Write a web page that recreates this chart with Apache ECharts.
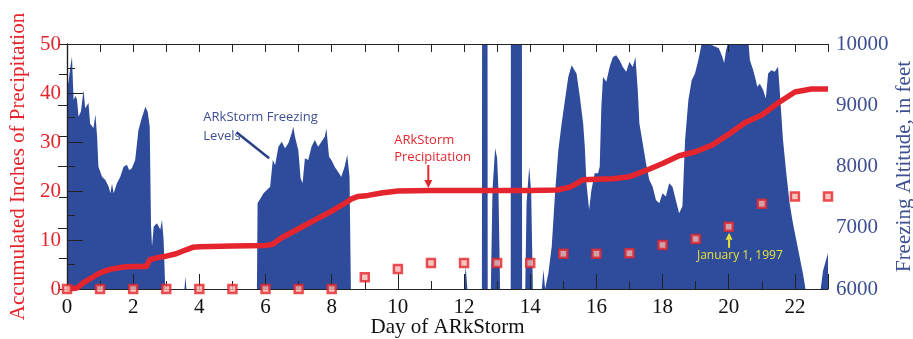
<!DOCTYPE html>
<html>
<head>
<meta charset="utf-8">
<script src="https://cdn.jsdelivr.net/npm/echarts@6/dist/echarts.min.js"></script>
<style>
  html, body { margin: 0; padding: 0; background: #fff; }
  #chart { width: 913px; height: 339px; }
</style>
</head>
<body>
<div id="chart"></div>
<script>
// accumulated ARkStorm precipitation (inches)
const precipDays = [0, 0.3, 0.5, 0.8, 1, 1.3, 1.7, 2, 2.4, 2.5, 2.8, 3, 3.3, 3.6, 3.8, 4, 5, 6, 6.2, 6.5, 7, 7.5, 8, 8.4, 8.6, 8.8, 9.1, 9.5, 10, 11, 12, 13, 14, 14.8, 15.2, 15.4, 15.6, 16, 16.5, 17, 17.5, 18, 18.5, 19, 19.5, 20, 20.5, 21, 21.5, 22, 22.5, 23];
const precipInches = [0, 0.2, 1.3, 2.5, 3.3, 4, 4.5, 4.6, 4.6, 6, 6.5, 6.7, 7.2, 8, 8.5, 8.6, 8.8, 8.9, 9.1, 10.5, 12.3, 14.1, 15.9, 17.5, 18.4, 18.9, 19.1, 19.6, 20, 20.1, 20.1, 20.1, 20.1, 20.2, 20.8, 21.5, 22.3, 22.4, 22.5, 22.9, 24.2, 25.6, 27.2, 28, 29.4, 31.6, 34, 35.5, 38, 40.2, 40.8, 40.8];

// January 1, 1997 event, daily accumulated (inches)
const eventDays = [0, 1, 2, 3, 4, 5, 6, 7, 8, 9, 10, 11, 12, 13, 14, 15, 16, 17, 18, 19, 20, 21, 22, 23];
const eventInches = [0, 0, 0, 0, 0, 0, 0, 0, 0, 2.4, 4.1, 5.3, 5.3, 5.3, 5.3, 7.2, 7.2, 7.3, 9.0, 10.2, 12.7, 17.4, 18.9, 18.9];

// ARkStorm freezing levels (feet); 6000 = at or below the axis floor
const freezeDays = [0, 0.05, 0.1, 0.15, 0.2, 0.25, 0.3, 0.35, 0.42, 0.5, 0.55, 0.65, 0.7, 0.8, 0.86, 0.91, 0.95, 1.06, 1.16, 1.26, 1.31, 1.36, 1.41, 1.51, 1.61, 1.71, 1.81, 1.88, 1.96, 2.06, 2.16, 2.27, 2.37, 2.44, 2.5, 2.54, 2.57, 2.62, 2.72, 2.82, 2.87, 2.92, 2.97,
  3.55, 3.58, 3.61,
  5.74, 5.76, 5.82, 5.94, 6.04, 6.14, 6.22, 6.29, 6.39, 6.49, 6.59, 6.69, 6.79, 6.84, 6.89, 6.99, 7.06, 7.12, 7.19, 7.29, 7.39, 7.49, 7.59, 7.69, 7.79, 7.84, 7.92, 7.99, 8.09, 8.19, 8.29, 8.39, 8.47, 8.54, 8.58,
  12.0, 12.05, 12.1, 12.54, 12.545, 12.71, 12.715, 12.81, 12.86, 12.94, 13.0, 13.04, 13.09, 13.41, 13.415, 13.75, 13.755, 13.85, 13.89, 13.97, 14.03, 14.08, 14.35, 14.4, 14.45,
  14.5, 14.55, 14.65, 14.75, 14.85, 14.95, 15.05, 15.15, 15.25, 15.3, 15.4, 15.5, 15.6, 15.65, 15.7, 15.78, 15.85, 15.95, 16.05, 16.1, 16.15, 16.2, 16.3, 16.4, 16.5, 16.6, 16.7, 16.8, 16.9, 17.0, 17.1, 17.18, 17.25, 17.3, 17.4, 17.5, 17.6, 17.7, 17.8, 17.9, 18.0, 18.1, 18.2, 18.3, 18.4, 18.5, 18.6,
  18.68, 18.78, 18.88, 18.98, 19.08, 19.18, 19.5, 19.7, 19.8, 19.86, 19.92, 19.97, 20.6, 20.64, 20.74, 20.82, 20.86, 20.94, 21.04, 21.12, 21.19, 21.29, 21.39, 21.49, 21.54, 21.64, 21.74, 21.84, 21.94, 22.04, 22.14, 22.24, 22.32,
  22.78, 22.85, 23.0];
const freezeFeet = [9245, 9400, 9626, 9790, 9084, 9150, 9100, 8812, 8900, 9247, 8950, 9035, 8700, 8628, 8850, 8486, 7997, 7834, 7780, 7671, 7563, 7720, 7563, 7726, 7834, 7997, 8030, 7940, 7970, 8106, 8595, 8812, 8975, 8890, 8650, 7020, 6694, 7020, 7075, 6970, 7130, 6803, 6000,
  6000, 6205, 6000,
  6000, 7405, 7455, 7564, 7618, 7671, 8106, 8025, 8323, 8405, 8296, 8378, 8541, 8649, 8486, 8269, 7808, 7726, 8133, 8106, 8323, 8432, 8323, 8405, 8486, 8622, 8160, 8106, 7997, 7916, 7834, 7997, 8188, 7834, 6000,
  6000, 6368, 6000, 6000, 10000, 10000, 6000, 6000, 7617, 8297, 8134, 7617, 6000, 6000, 10000, 10000, 6000, 6000, 7408, 7997, 7560, 6000, 6000, 6314, 6000,
  6000, 6261, 6694, 7564, 8269, 8704, 9084, 9463, 9654, 9681, 9518, 9138, 8704, 8323, 7726, 7292, 7617, 7889, 7889, 7997, 8975, 9463, 9382, 9626, 9789, 9816, 9735, 9626, 9545, 9708, 9626, 9789, 9247, 8704, 8378, 8052, 7780, 7671, 7455, 7400, 7563, 7510, 7726, 7671, 7455, 7238, 7350,
  8432, 9084, 9410, 9518, 9735, 10000, 9980, 9930, 9800, 9690, 9900, 10000, 10000, 9735, 9572, 9410, 9301, 9350, 9247, 9110, 9518, 9572, 9545, 9627, 9247, 8432, 7889, 7401, 7075, 6803, 6531, 6261, 6000,
  6000, 6300, 6587];

const RED = '#e4252d';
const BLUE_AREA = '#2f4c9c';
const BLUE_TEXT = '#3d4f93';
const SERIF = '"Liberation Serif", "Times New Roman", serif';
const axisLineStyle = { color: '#222', width: 1.2 };

const chart = echarts.init(document.getElementById('chart'));

chart.setOption({
  animation: false,
  grid: { left: 67, right: 85, top: 44, bottom: 50, outerBoundsMode: 'none', containLabel: false },
  xAxis: [
    {
      type: 'value', min: 0, max: 23, interval: 2, position: 'bottom', z: 3,
      axisLine: { lineStyle: axisLineStyle },
      axisTick: { inside: true, length: 15, lineStyle: { color: '#222' } },
      minorTick: { show: true, splitNumber: 2, length: 8, lineStyle: { color: '#222' } },
      splitLine: { show: false },
      axisLabel: { color: '#111', fontSize: 21, fontFamily: SERIF, margin: 8, showMaxLabel: false },
      name: 'Day of ARkStorm', nameLocation: 'middle', nameGap: 28, nameMoveOverlap: false,
      nameTextStyle: { color: '#111', fontSize: 21, fontFamily: SERIF }
    },
    {
      type: 'value', min: 0, max: 23, interval: 1, position: 'top', z: 3,
      axisLine: { lineStyle: axisLineStyle },
      axisTick: { inside: true, length: 8, lineStyle: { color: '#222' } },
      splitLine: { show: false },
      axisLabel: { show: false }
    }
  ],
  yAxis: [
    {
      type: 'value', min: 0, max: 50, interval: 10, position: 'left', z: 3,
      axisLine: { show: true, lineStyle: axisLineStyle },
      axisTick: { inside: true, length: 16, lineStyle: { color: '#222' } },
      minorTick: { show: true, splitNumber: 2, length: 8, lineStyle: { color: '#222' } },
      splitLine: { show: false },
      axisLabel: { color: RED, fontSize: 21, fontFamily: SERIF, margin: 6 },
      name: 'Accumulated Inches of Precipitation', nameLocation: 'middle', nameGap: 38, nameRotate: 90, nameMoveOverlap: false,
      nameTextStyle: { color: RED, fontSize: 21, fontFamily: SERIF }
    },
    {
      type: 'value', min: 6000, max: 10000, interval: 1000, position: 'right', z: 3,
      axisLine: { show: true, lineStyle: axisLineStyle },
      axisTick: { inside: true, length: 9, lineStyle: { color: '#222' } },
      minorTick: { show: true, splitNumber: 2, length: 8, lineStyle: { color: '#222' } },
      splitLine: { show: false },
      axisLabel: { color: BLUE_TEXT, fontSize: 21, fontFamily: SERIF, margin: 8, formatter: v => String(v) },
      name: 'Freezing Altitude, in feet', nameLocation: 'middle', nameGap: 66, nameRotate: 90, nameMoveOverlap: false,
      nameTextStyle: { color: BLUE_TEXT, fontSize: 21, fontFamily: SERIF }
    }
  ],
  series: [
    {
      name: 'ARkStorm Freezing Levels', type: 'line', xAxisIndex: 0, yAxisIndex: 1, z: 1,
      data: freezeDays.map((d, i) => [d, freezeFeet[i]]),
      symbol: 'none', lineStyle: { width: 0 },
      areaStyle: { color: BLUE_AREA, opacity: 1, origin: 'start' }
    },
    {
      name: 'ARkStorm Precipitation', type: 'line', xAxisIndex: 0, yAxisIndex: 0, z: 4,
      data: precipDays.map((d, i) => [d, precipInches[i]]),
      symbol: 'none', lineStyle: { color: RED, width: 5.5 }
    },
    {
      name: 'January 1, 1997', type: 'scatter', xAxisIndex: 0, yAxisIndex: 0, z: 5,
      data: eventDays.map((d, i) => [d, eventInches[i]]),
      symbol: 'rect', symbolSize: 8,
      itemStyle: { color: '#f6b8ae', borderColor: RED, borderWidth: 2.5 }
    }
  ]
});

// annotations placed in data coordinates (day, inches)
const at = (d, v) => chart.convertToPixel({ xAxisIndex: 0, yAxisIndex: 0 }, [d, v]);

function arrow(d, v0, v1, color, w, head) {
  const p0 = at(d, v0), p1 = at(d, v1);
  const dir = p1[1] > p0[1] ? 1 : -1;
  return [
    { type: 'line', z: 10, shape: { x1: p0[0], y1: p0[1], x2: p1[0], y2: p1[1] - dir * head }, style: { stroke: color, lineWidth: w } },
    { type: 'polygon', z: 10, shape: { points: [[p1[0] - head / 2, p1[1] - dir * head], [p1[0] + head / 2, p1[1] - dir * head], [p1[0], p1[1]]] }, style: { fill: color } }
  ];
}

const freezeLabel = at(4.12, 37.0);
const leadA = at(5.12, 32.0), leadB = at(6.11, 26.7);
const precipLabel = at(9.89, 32.0);
const janLabel = at(19.04, 6.8);

chart.setOption({
  graphic: [
    { type: 'text', z: 10, x: freezeLabel[0], y: freezeLabel[1],
      style: { text: 'ARkStorm Freezing\nLevels', fill: BLUE_TEXT, font: '13px "Open Sans", sans-serif', lineHeight: 19 } },
    { type: 'line', z: 10, shape: { x1: leadA[0], y1: leadA[1], x2: leadB[0], y2: leadB[1] },
      style: { stroke: '#2b3f85', lineWidth: 2.5 } },
    { type: 'text', z: 10, x: precipLabel[0], y: precipLabel[1],
      style: { text: 'ARkStorm\nPrecipitation', fill: RED, font: '13px "Open Sans", sans-serif', lineHeight: 17 } },
    ...arrow(10.92, 25.3, 20.6, RED, 2, 8),
    { type: 'text', z: 10, x: janLabel[0], y: janLabel[1],
      style: { text: 'January 1, 1997', fill: '#e6e03a', font: '12px "Open Sans", sans-serif', verticalAlign: 'middle' } },
    ...arrow(20.01, 8.4, 11.5, '#e6e03a', 2, 7)
  ]
});
</script>
</body>
</html>
